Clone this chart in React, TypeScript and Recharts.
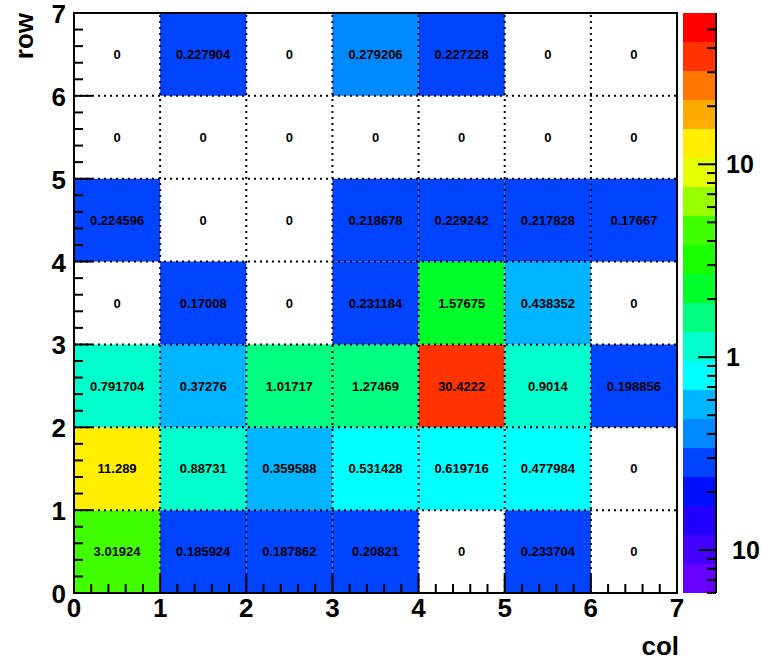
import React from "react";
import {
	ComposedChart,
	XAxis,
	YAxis,
	ReferenceArea,
	ReferenceLine,
	Scatter
} from "recharts";

// cell contents, row 0 is the bottom row, columns 0..6 left to right
const ROW_0 = [3.01924, 0.185924, 0.187862, 0.20821, 0, 0.233704, 0];
const ROW_1 = [11.289, 0.88731, 0.359588, 0.531428, 0.619716, 0.477984, 0];
const ROW_2 = [0.791704, 0.37276, 1.01717, 1.27469, 30.4222, 0.9014, 0.198856];
const ROW_3 = [0, 0.17008, 0, 0.231184, 1.57675, 0.438352, 0];
const ROW_4 = [0.224596, 0, 0, 0.218678, 0.229242, 0.217828, 0.17667];
const ROW_5 = [0, 0, 0, 0, 0, 0, 0];
const ROW_6 = [0, 0.227904, 0, 0.279206, 0.227228, 0, 0];
const ROWS = [ROW_0, ROW_1, ROW_2, ROW_3, ROW_4, ROW_5, ROW_6];

const AXIS_LABELS = [0, 1, 2, 3, 4, 5, 6, 7];
const GRID_LINES = [1, 2, 3, 4, 5, 6];
const MINOR_PER_UNIT = 5;

// 20 contour colours, bottom (lowest) to top
const PALETTE = [
	"#6600ff", "#4400ff", "#2200ff", "#0010ff", "#0044ff",
	"#0088ff", "#00b4ff", "#00ffff", "#00ffcc", "#00ff80",
	"#00ff2a", "#1aff00", "#40ff00", "#99ff00", "#e6ff00",
	"#ffee00", "#ffaa00", "#ff7700", "#ff3300", "#ff0000"
];

// colour bar (log z)
const Z_MAX = 60.8444;
const Z_MIN = 0.0599;
const Z_LABELS = [
	{ value: 0.1, text: "10" },
	{ value: 1, text: "1" },
	{ value: 10, text: "10" }
];
const Z_MINOR = [
	0.06, 0.07, 0.08, 0.09,
	0.2, 0.3, 0.4, 0.5, 0.6, 0.7, 0.8, 0.9,
	2, 3, 4, 5, 6, 7, 8, 9,
	20, 30, 40, 50
];

// level mapping used for the cells
const CELL_LOG_MIN = -1.4059;
const CELL_LOG_STEP = 0.155;

const FONT = "'Liberation Sans', Arial, Helvetica, sans-serif";

const cellColor = (v: number) => {
	const k = Math.floor((Math.log10(v) - CELL_LOG_MIN) / CELL_LOG_STEP);
	return PALETTE[Math.max(0, Math.min(PALETTE.length - 1, k))];
};

const cells = ROWS.flatMap((row, r) =>
	row.map((v, c) => ({ col: c, row: r, x: c + 0.5, y: r + 0.5, v }))
);

const axisTicks: number[] = [];
for (let i = 0; i <= (AXIS_LABELS.length - 1) * MINOR_PER_UNIT; i++) {
	axisTicks.push(i / MINOR_PER_UNIT);
}

const isMajor = (v: number) => Math.abs(v - Math.round(v)) < 1e-6;

const zLogMin = Math.log10(Z_MIN);
const zStep = (Math.log10(Z_MAX) - zLogMin) / PALETTE.length;
const bands = PALETTE.map((color, k) => ({
	x: 0.5,
	color,
	lo: Math.pow(10, zLogMin + k * zStep),
	hi: Math.pow(10, zLogMin + (k + 1) * zStep),
	mid: Math.pow(10, zLogMin + (k + 0.5) * zStep)
}));

const XTick = (props: any) => {
	const { x, y, payload } = props;
	const major = isMajor(payload.value);
	return (
		<g>
			<line x1={x} y1={y} x2={x} y2={y - (major ? 18 : 9)} stroke="#000" strokeWidth={2} />
			{major && (
				<text x={x} y={y + 24} textAnchor="middle" fontSize={26} fontWeight="bold" fontFamily={FONT} fill="#000">
					{Math.round(payload.value)}
				</text>
			)}
		</g>
	);
};

const YTick = (props: any) => {
	const { x, y, payload } = props;
	const major = isMajor(payload.value);
	return (
		<g>
			<line x1={x} y1={y} x2={x + (major ? 18 : 9)} y2={y} stroke="#000" strokeWidth={2} />
			{major && (
				<text x={x - 8} y={y + 10} textAnchor="end" fontSize={26} fontWeight="bold" fontFamily={FONT} fill="#000">
					{Math.round(payload.value)}
				</text>
			)}
		</g>
	);
};

const ZTick = (props: any) => {
	const { x, y, payload } = props;
	const lab = Z_LABELS.find((l) => Math.abs(l.value - payload.value) < 1e-9);
	return (
		<g>
			<line x1={x} y1={y} x2={x - (lab ? 18 : 9)} y2={y} stroke="#000" strokeWidth={2} />
			{lab && (
				<text x={x + (lab.value < 1 ? 16 : 10)} y={y + 9} textAnchor="start" fontSize={25} fontWeight="bold" fontFamily={FONT} fill="#000">
					{lab.text}
				</text>
			)}
		</g>
	);
};

const RowTitle = (props: any) => {
	const vb = props.viewBox || { x: 14, y: 13 };
	return (
		<text x={vb.x + 19} y={vb.y} transform={`rotate(-90 ${vb.x + 19} ${vb.y})`} textAnchor="end" fontSize={26} fontWeight="bold" fontFamily={FONT} fill="#000">
			row
		</text>
	);
};

const ColTitle = (props: any) => {
	const vb = props.viewBox || { x: 74, y: 593, width: 603 };
	return (
		<text x={vb.x + vb.width + 2} y={vb.y + 62} textAnchor="end" fontSize={26} fontWeight="bold" fontFamily={FONT} fill="#000">
			col
		</text>
	);
};

const CellText = (props: any) => {
	const { cx, cy, payload } = props;
	return (
		<text x={cx} y={cy} dy="0.36em" textAnchor="middle" fontSize={13} fontWeight="bold" fontFamily={FONT} fill="#000">
			{String(payload.v)}
		</text>
	);
};

const NoMark = () => <g />;

export default function App() {
	return (
		<div style={{ position: "absolute", left: 0, top: 0, width: 761, height: 661, background: "#fff" }}>
			<div style={{ position: "absolute", left: 0, top: 0 }}>
				<ComposedChart width={761} height={661} data={cells} margin={{ top: 13, right: 84, bottom: 18, left: 14 }}>
					<XAxis
						type="number"
						dataKey="x"
						domain={[0, 7]}
						ticks={axisTicks}
						interval={0}
						allowDataOverflow
						axisLine={false}
						tickLine={false}
						tickSize={0}
						tickMargin={0}
						height={50}
						tick={<XTick />}
						label={<ColTitle />}
					/>
					<YAxis
						type="number"
						dataKey="y"
						domain={[0, 7]}
						ticks={axisTicks}
						interval={0}
						allowDataOverflow
						axisLine={false}
						tickLine={false}
						tickSize={0}
						tickMargin={0}
						width={60}
						tick={<YTick />}
						label={<RowTitle />}
					/>
					{cells
						.filter((d) => d.v > 0)
						.map((d) => (
							<ReferenceArea
								key={`c${d.row}-${d.col}`}
								x1={d.col}
								x2={d.col + 1}
								y1={d.row}
								y2={d.row + 1}
								fill={cellColor(d.v)}
								fillOpacity={1}
								stroke="none"
							/>
						))}
					{GRID_LINES.map((g) => (
						<ReferenceLine key={`gx${g}`} x={g} stroke="#000" strokeWidth={2} strokeDasharray="2 4" />
					))}
					{GRID_LINES.map((g) => (
						<ReferenceLine key={`gy${g}`} y={g} stroke="#000" strokeWidth={2} strokeDasharray="2 4" />
					))}
					<ReferenceArea x1={0} x2={7} y1={0} y2={7} fill="none" fillOpacity={0} stroke="#000" strokeWidth={2} />
					<Scatter dataKey="y" isAnimationActive={false} shape={<CellText />} />
				</ComposedChart>
			</div>
			<div style={{ position: "absolute", left: 0, top: 0 }}>
				<ComposedChart width={761} height={661} data={bands} margin={{ top: 13, right: 0, bottom: 68, left: 683 }}>
					<XAxis type="number" dataKey="x" domain={[0, 1]} hide allowDataOverflow />
					<YAxis
						orientation="right"
						type="number"
						dataKey="mid"
						scale="log"
						domain={[Z_MIN, Z_MAX]}
						allowDataOverflow
						ticks={[...Z_MINOR, ...Z_LABELS.map((l) => l.value)]}
						interval={0}
						tickLine={false}
						tickSize={0}
						tickMargin={0}
						axisLine={{ stroke: "#000", strokeWidth: 2 }}
						width={45}
						tick={<ZTick />}
					/>
					{bands.map((b) => (
						<ReferenceArea
							key={b.color}
							y1={b.lo}
							y2={b.hi}
							ifOverflow="visible"
							fill={b.color}
							fillOpacity={1}
							stroke="none"
						/>
					))}
					<Scatter dataKey="mid" isAnimationActive={false} shape={<NoMark />} />
				</ComposedChart>
			</div>
		</div>
	);
}
